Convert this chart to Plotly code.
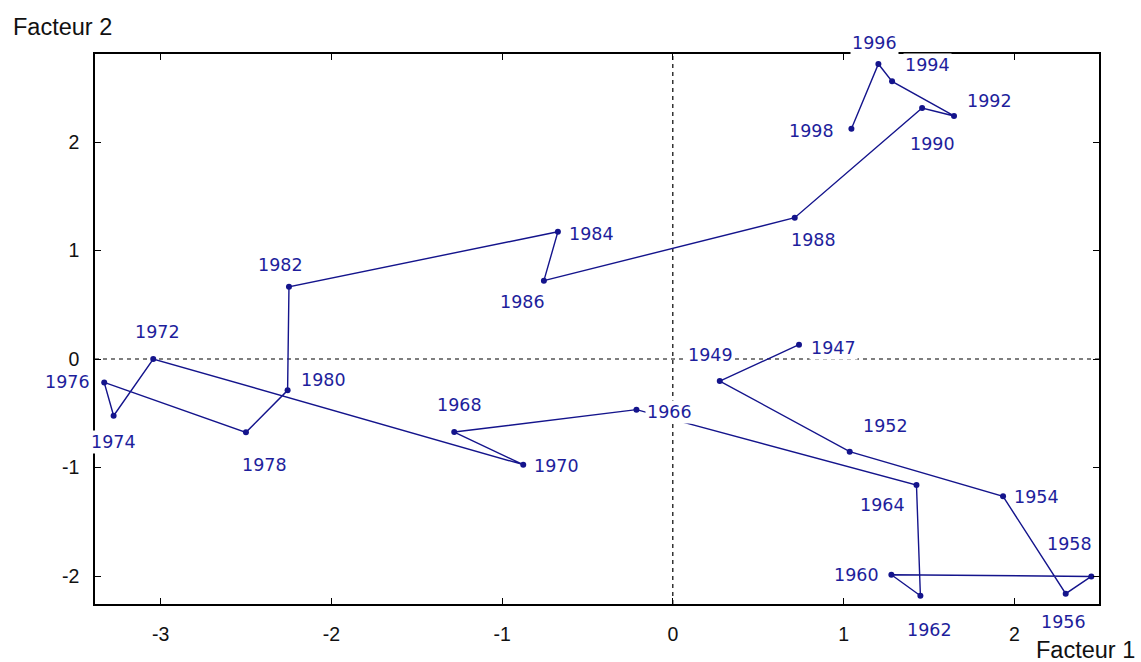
import plotly.graph_objects as go

years = ["1947", "1949", "1952", "1954", "1956", "1958", "1960", "1962", "1964",
         "1966", "1968", "1970", "1972", "1974", "1976", "1978", "1980", "1982",
         "1984", "1986", "1988", "1990", "1992", "1994", "1996", "1998"]
facteur1 = [0.739, 0.275, 1.036, 1.934, 2.301, 2.451, 1.280, 1.450, 1.427,
            -0.213, -1.280, -0.876, -3.043, -3.275, -3.330, -2.500, -2.256, -2.248,
            -0.673, -0.755, 0.714, 1.460, 1.647, 1.284, 1.204, 1.046]
facteur2 = [0.132, -0.203, -0.854, -1.266, -2.163, -2.004, -1.988, -2.182, -1.161,
            -0.467, -0.673, -0.974, 0.000, -0.523, -0.216, -0.676, -0.289, 0.666,
            1.173, 0.722, 1.302, 2.313, 2.240, 2.559, 2.719, 2.123]

xticks = [-3, -2, -1, 0, 1, 2]
yticks = [-2, -1, 0, 1, 2]

# label placement (pixel offsets from each point)
label_dx = [34, -9, 36, 33, -2, -22, -35, 9, -34, 33, 5, 33, 4, 0, -37, 19, 36, -8,
            34, -21, 19, 10, 35, 35, -4, -40]
label_dy = [-3, 26, 26, -1, -28, 32, 0, -34, -20, -2, 27, -1, 27, -26, 0, -33, 10, 22,
            -2, -21, -22, -36, 15, 16, 21, -2]

navy = "#14148c"
label_col = "#1e1e9c"

fig = go.Figure()
fig.add_trace(go.Scatter(
    x=facteur1, y=facteur2, mode="lines+markers",
    line=dict(color=navy, width=1.4),
    marker=dict(color=navy, size=6),
    hoverinfo="skip", showlegend=False, cliponaxis=False,
))

XR = [-3.384, 2.496]
YR = [-2.258, 2.811]

shapes = [
    dict(type="line", xref="x", yref="y", x0=XR[0], x1=XR[1], y0=0, y1=0,
         line=dict(color="black", width=1.2, dash="4px,4px"), layer="below"),
    dict(type="line", xref="x", yref="y", x0=0, x1=0, y0=YR[0], y1=YR[1],
         line=dict(color="black", width=1.2, dash="4px,4px"), layer="below"),
]

annotations = []
for yr, xv, yv, dx, dy in zip(years, facteur1, facteur2, label_dx, label_dy):
    annotations.append(dict(
        x=xv, y=yv, xref="x", yref="y", text=yr, showarrow=False,
        xshift=dx, yshift=dy, bgcolor="white", borderpad=1,
        font=dict(family="DejaVu Sans", size=17.5, color=label_col),
    ))

annotations.append(dict(
    x=-0.0837, y=1.049, xref="paper", yref="paper", text="Facteur 2",
    showarrow=False, xanchor="left", yanchor="middle",
    font=dict(family="Liberation Sans", size=23.5, color="#111111"),
))
annotations.append(dict(
    x=1.0378, y=-0.0836, xref="paper", yref="paper", text="Facteur 1",
    showarrow=False, xanchor="right", yanchor="middle",
    font=dict(family="Liberation Sans", size=23.5, color="#111111"),
))

axis_common = dict(
    showline=True, linecolor="black", linewidth=1.5, mirror="ticks",
    ticks="inside", ticklen=6, tickcolor="black", tickwidth=1.3,
    showgrid=False, zeroline=False,
    tickfont=dict(family="Liberation Sans", size=19.5, color="#111111"),
)

fig.update_layout(
    width=1141, height=662,
    margin=dict(l=95, r=42, t=54, b=58),
    paper_bgcolor="white", plot_bgcolor="white",
    xaxis=dict(range=XR, tickvals=xticks, ticktext=[str(v) for v in xticks],
               ticklabelstandoff=12, **axis_common),
    yaxis=dict(range=YR, tickvals=yticks, ticktext=[str(v) for v in yticks],
               ticklabelstandoff=10, **axis_common),
    shapes=shapes,
    annotations=annotations,
)

fig.write_html(
    "out.html",
    config={"displayModeBar": False},
    post_script="document.body.style.margin='0';document.body.style.overflow='hidden';",
)
